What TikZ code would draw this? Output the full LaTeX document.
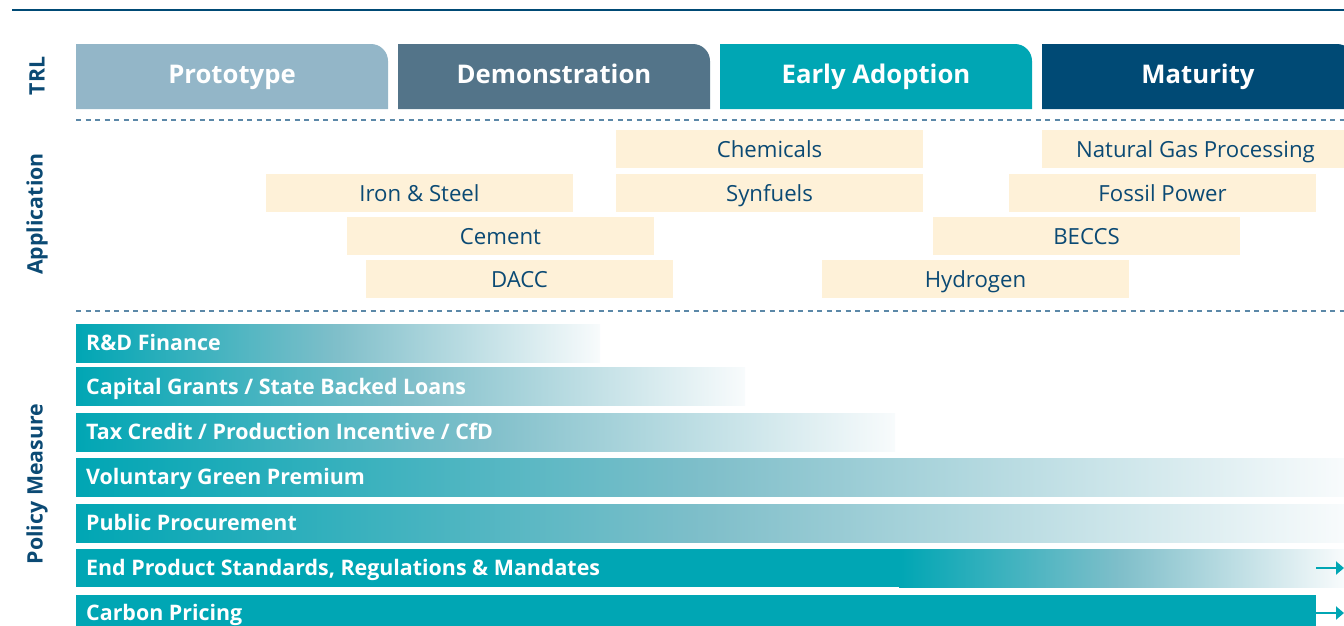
\documentclass[tikz,border=0pt]{standalone}
\usepackage{fontspec}
\setmainfont{Open Sans}
\usetikzlibrary{arrows.meta}
\definecolor{tealA}{RGB}{0,166,180}
\definecolor{midA}{RGB}{128,191,202}
\definecolor{endA}{RGB}{248,251,252}
\definecolor{protoC}{RGB}{147,182,200}
\definecolor{demoC}{RGB}{83,116,137}
\definecolor{earlyC}{RGB}{0,166,180}
\definecolor{matC}{RGB}{0,74,117}
\definecolor{creamC}{RGB}{254,241,216}
\definecolor{navyT}{RGB}{11,74,116}
\definecolor{dashC}{RGB}{91,136,168}
\tikzset{
  trltext/.style={text=white, text height=18.5pt, text depth=0pt, inner sep=0pt, font=\fontsize{25.7}{29}\selectfont\bfseries},
  appbox/.style={fill=creamC, text=navyT, minimum width=307pt, minimum height=38pt, inner sep=0pt, text height=16pt, text depth=0pt, font=\fontsize{22.2}{26}\selectfont},
  side/.style={text=navyT, rotate=90, font=\fontsize{21.3}{25}\selectfont\bfseries},
  bartext/.style={text=white, anchor=west, inner sep=0pt, text height=15.3pt, text depth=0pt, font=\fontsize{21.4}{25}\selectfont\bfseries},
  fadebar/.style={left color=tealA, right color=endA, middle color=midA},
  sep/.style={dashC, line width=1.5pt, dash pattern=on 5pt off 4.5pt},
  arr/.style={tealA, line width=2.5pt, -{Triangle[length=8pt,width=13pt]}},
}
\begin{document}
\begin{tikzpicture}[x=1pt,y=-1pt]
\useasboundingbox (0,0) rectangle (1344,625);
\clip (0,0) rectangle (1344,625);
% top rule
\draw[matC, line width=1.5pt] (12,10) -- (1344,10);
% TRL header boxes
\fill[protoC] (76,109) -- (76,44) -- (371,44) arc[start angle=-90, end angle=0, radius=17] -- (388,109) -- cycle;
\fill[demoC] (398,109) -- (398,44) -- (693,44) arc[start angle=-90, end angle=0, radius=17] -- (710,109) -- cycle;
\fill[earlyC] (720,109) -- (720,44) -- (1015,44) arc[start angle=-90, end angle=0, radius=17] -- (1032,109) -- cycle;
\fill[matC] (1042,109) -- (1042,44) -- (1337,44) arc[start angle=-90, end angle=0, radius=17] -- (1354,109) -- cycle;
\node[trltext] (proto) at (232,74) {Prototype};
\node[trltext] (demo) at (554,74) {Demonstration};
\node[trltext] (early) at (876,74) {Early Adoption};
\node[trltext] (mat) at (1198,74) {Maturity};
% separators
\draw[sep] (76,120) -- (1344,120);
\draw[sep] (76,311) -- (1344,311);
% side labels
\node[side] (lTRL) at (37,76) {TRL};
\node[side] (lApp) at (37,214) {Application};
\node[side] (lPol) at (37,484) {Policy Measure};
% applications
\node[appbox] (chem) at (769.5,149) {Chemicals};
\node[appbox] (ngp) at (1195.5,149) {Natural Gas Processing};
\node[appbox] (iron) at (419.5,193) {Iron \& Steel};
\node[appbox] (syn) at (769.5,193) {Synfuels};
\node[appbox] (fossil) at (1162.5,193) {Fossil Power};
\node[appbox] (cem) at (500.5,236) {Cement};
\node[appbox] (beccs) at (1086.5,236) {BECCS};
\node[appbox] (dacc) at (519.5,279) {DACC};
\node[appbox] (hyd) at (975.5,279) {Hydrogen};
% policy bars
\shade[fadebar] (76,324) rectangle (600,362);
\shade[fadebar] (76,367.5) rectangle (745,405.5);
\shade[fadebar] (76,413) rectangle (895,451);
\shade[fadebar] (76,458) rectangle (1344,496);
\shade[fadebar] (76,504) rectangle (1344,542);
\fill[tealA] (76,549) rectangle (900,587);
\shade[fadebar] (899,549) rectangle (1344,587);
\fill[tealA] (76,595) rectangle (1316,633);
\node[bartext] (rd) at (86,343) {R\&D Finance};
\node[bartext] (cg) at (86,386.5) {Capital Grants / State Backed Loans};
\node[bartext] (tc) at (86,432) {Tax Credit / Production Incentive / CfD};
\node[bartext] (vg) at (86,477) {Voluntary Green Premium};
\node[bartext] (pp) at (86,523) {Public Procurement};
\node[bartext] (ep) at (86,568) {End Product Standards, Regulations \& Mandates};
\node[bartext] (cp) at (86,613) {Carbon Pricing};
% arrows
\coordinate (epS) at (1316,568);
\coordinate (epE) at (1344,568);
\coordinate (cpS) at (1316,613);
\coordinate (cpE) at (1344,613);
\draw[arr] (epS) -- (epE);
\draw[arr] (cpS) -- (cpE);
\end{tikzpicture}
\end{document}
